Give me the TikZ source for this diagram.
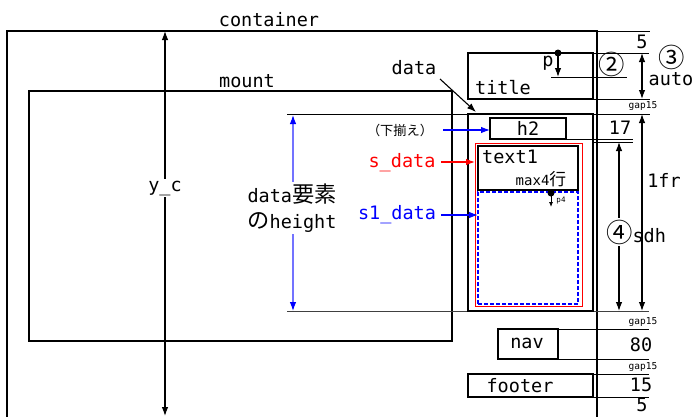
\documentclass[tikz,border=0pt]{standalone}
\usepackage{fontspec}
\setmainfont{DejaVu Sans Mono}
\newfontfamily\jp[Scale=1.2]{Noto Sans CJK JP}
\usetikzlibrary{arrows.meta}
\newcommand{\circnum}[1]{{\fontsize{22}{22}\selectfont\jp #1}}
\begin{document}
\begin{tikzpicture}[x=1pt,y=-1pt,
  box/.style={draw, line width=1.1pt, inner sep=0pt, outer sep=0pt, anchor=north west},
  txt/.style={inner sep=0pt, font=\fontsize{18.5}{26}\selectfont},
  small/.style={inner sep=0pt, font=\fontsize{9.5}{10}\selectfont},
  ln/.style={line width=0.9pt},
  arr/.style={-{Latex[length=9pt,width=6.5pt]}, line width=1.1pt},
  dimarr/.style={{Latex[length=9pt,width=6.5pt]}-{Latex[length=9pt,width=6.5pt]}, line width=1.1pt},
  lbl/.style={txt, fill=white, inner sep=2pt}
]
\useasboundingbox (0,0) rectangle (693,416);
\clip (0,0) rectangle (693,416);

% container
\coordinate (cbl) at (7,425);
\coordinate (ctl) at (7,31);
\coordinate (ctr) at (597,31);
\coordinate (cbr) at (597,425);
\coordinate (cext) at (650,31);
\draw[line width=1.1pt] (cbl) -- (ctl) -- (ctr) -- (cbr);
\draw[ln] (ctr) -- (cext);
\node[txt] (containerlbl) at (269,20) {container};
\node[txt] (five1) at (642,42) {5};

% y_c
\coordinate (yct) at (165,31);
\coordinate (ycb) at (165,416);
\draw[dimarr] (yct) -- (ycb);
\node[lbl] (yc) at (165,188) {y\_c};

% mount
\node[box, minimum width=423pt, minimum height=250pt] (mount) at (29,91) {};
\node[txt] (mountlbl) at (247,81) {mount};

% data height lines
\coordinate (dhl1) at (287,114);
\coordinate (dhr1) at (650,114);
\coordinate (dhl2) at (287,311);
\coordinate (dhr2) at (649,311);
\draw[ln] (dhl1) -- (dhr1);
\draw[ln, black!75] (dhl2) -- (dhr2);
\coordinate (dht) at (293,115);
\coordinate (dhb) at (293,311);
\draw[blue!55, line width=1.1pt, {Latex[length=9pt,width=6.5pt,blue]}-{Latex[length=9pt,width=6.5pt,blue]}] (dht) -- (dhb);
\node[txt, fill=white, align=center, inner sep=2pt] (dhlbl) at (292,208) {data{\jp 要素}\\{\jp の}height};

% title
\node[box, minimum width=125pt, minimum height=46pt] (title) at (468,53) {};
\node[txt] (titlelbl) at (503,88) {title};
\coordinate (tr1) at (649,53);
\coordinate (tr2) at (650,99);
\draw[ln] (title.north east) -- (tr1);
\draw[ln] (title.south east) -- (tr2);
\fill (558,53) circle (3.5pt) coordinate (pdot);
\coordinate (pend) at (558,77);
\draw[arr] (pdot) -- (pend);
\coordinate (pl1) at (551,77);
\coordinate (pl2) at (627,77);
\draw[ln] (pl1) -- (pl2);
\node[txt] (plbl) at (548,63) {p};
\node[txt] (two) at (612,64) {\circnum{②}};
\node[txt] (three) at (672,57) {\circnum{③}};
\node[txt] (autolbl) at (671,79) {auto};
\coordinate (at1) at (642,53);
\coordinate (at2) at (642,99);
\draw[dimarr] (at1) -- (at2);
\node[small] (gap1) at (643,106) {gap15};

% data
\node[box, minimum width=125pt, minimum height=197pt] (data) at (468,114) {};
\node[txt] (datalbl) at (414,68) {data};
\coordinate (dstart) at (440,79);
\coordinate (dtip) at (476,112);
\draw[arr] (dstart) -- (dtip);

% h2
\node[box, minimum width=76pt, minimum height=21pt] (h2) at (490,118) {};
\node[txt] (h2lbl) at (528,128) {h2};
\coordinate (h2r1) at (633,139);
\coordinate (h2l2) at (593,142);
\coordinate (h2r2) at (633,142);
\draw[ln] (h2.south east) -- (h2r1);
\draw[ln] (h2l2) -- (h2r2);
\node[txt] (seventeen) at (620,128) {17};
\node[inner sep=0pt, font=\fontsize{11}{12}\selectfont\jp] (shita) at (400,130) {（下揃え）};
\coordinate (shitastart) at (443,130);
\draw[arr, blue] (shitastart) -- (shitastart -| h2.west);

% s_data
\node[box, draw=red, line width=0.9pt, minimum width=107pt, minimum height=163pt] (sdata) at (475,143) {};
\node[box, minimum width=100pt, minimum height=44pt] (text1) at (478,146) {};
\node[txt, anchor=west] (text1lbl) at (482,157) {text1};
\node[inner sep=0pt, font=\fontsize{14}{15}\selectfont] (maxlbl) at (541,179) {max4{\jp 行}};
\node[box, draw=blue, dash pattern=on 4pt off 2pt, line width=1.2pt, minimum width=100pt, minimum height=112pt] (s1data) at (478,192) {};
\fill (551,193) circle (3.5pt) coordinate (p4dot);
\coordinate (p4end) at (551,207);
\draw[-{Latex[length=5pt,width=4pt]}, line width=0.8pt] (p4dot) -- (p4end);
\node[inner sep=0pt, font=\fontsize{7.5}{8}\selectfont] (p4lbl) at (561,201) {p4};

\node[txt, red] (sdatalbl) at (402,163) {s\_data};
\coordinate (sdatastart) at (441,162);
\draw[arr, red] (sdatastart) -- (sdatastart -| sdata.west);
\node[txt, blue] (s1datalbl) at (397,215) {s1\_data};
\coordinate (s1start) at (441,215);
\draw[arr, blue] (s1start) -- (s1start -| s1data.west);

% sdh and 1fr
\coordinate (sdht) at (619,142);
\coordinate (sdhb) at (619,311);
\draw[dimarr] (sdht) -- (sdhb);
\node[txt, fill=white, inner sep=2pt] (sdhlbl) at (636,232) {\circnum{④}sdh};
\coordinate (frt) at (642,114);
\coordinate (frb) at (642,311);
\draw[dimarr] (frt) -- (frb);
\node[txt] (frlbl) at (664,180) {1fr};

% nav
\node[small] (gap2) at (643,322) {gap15};
\node[box, minimum width=60pt, minimum height=30pt] (nav) at (498,329) {};
\node[txt] (navlbl) at (527,343) {nav};
\coordinate (nr1) at (649,329);
\coordinate (nr2) at (649,359);
\draw[ln] (nav.north east) -- (nr1);
\draw[ln] (nav.south east) -- (nr2);
\node[txt] (eighty) at (641,345) {80};

% footer
\node[small] (gap3) at (643,367) {gap15};
\node[box, minimum width=125pt, minimum height=23pt] (footer) at (468,374) {};
\node[txt] (footerlbl) at (520,386) {footer};
\coordinate (fr1) at (649,374);
\coordinate (fr2) at (649,397);
\draw[ln] (footer.north east) -- (fr1);
\draw[ln] (footer.south east) -- (fr2);
\node[txt] (fifteen) at (641,385) {15};
\node[txt] (five2) at (642,405) {5};
\end{tikzpicture}
\end{document}
